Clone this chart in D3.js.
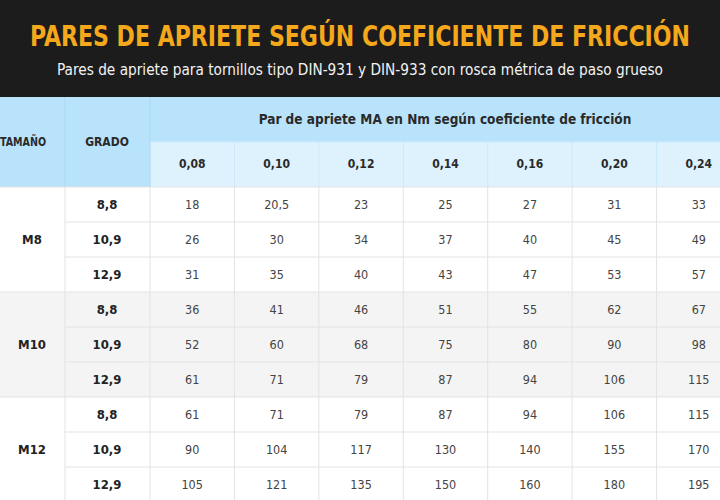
<!DOCTYPE html>
<html><head><meta charset="utf-8">
<script src="https://cdn.jsdelivr.net/npm/d3@7"></script>
<style>body{margin:0;background:#fff;overflow:hidden}</style>
</head><body>
<svg id="c" width="720" height="500"></svg>
<script>
var coefs = ["0,08","0,10","0,12","0,14","0,16","0,20","0,24"];
var sizes = ["M8","M10","M12"];
var grades = ["8,8","10,9","12,9"];
var m8 = [[18,"20,5",23,25,27,31,33],[26,30,34,37,40,45,49],[31,35,40,43,47,53,57]];
var m10 = [[36,41,46,51,55,62,67],[52,60,68,75,80,90,98],[61,71,79,87,94,106,115]];
var m12 = [[61,71,79,87,94,106,115],[90,104,117,130,140,155,170],[105,121,135,150,160,180,195]];
var values = [m8, m10, m12];

var svg = d3.select("#c");
var font = "'DejaVu Sans Condensed','DejaVu Sans',sans-serif";
var line = "#e3e3e3";

// banner
svg.append("rect").attr("width",720).attr("height",97).attr("fill","#1c1c1c");
svg.append("text").attr("x",360).attr("y",46).attr("text-anchor","middle")
	.attr("font-family",font).attr("font-weight","bold").attr("font-size",28)
	.attr("textLength",660).attr("lengthAdjust","spacingAndGlyphs")
	.attr("fill","#f6a81c").text("PARES DE APRIETE SEGÚN COEFICIENTE DE FRICCIÓN");
svg.append("text").attr("x",360).attr("y",75).attr("text-anchor","middle")
	.attr("font-family",font).attr("font-size",15.5)
	.attr("textLength",606).attr("lengthAdjust","spacingAndGlyphs")
	.attr("fill","#f2f2f2").text("Pares de apriete para tornillos tipo DIN-931 y DIN-933 con rosca métrica de paso grueso");

// scales
var x = d3.scaleBand().domain(coefs).range([150,741]);
var rowKeys = [];
sizes.forEach(function(s){grades.forEach(function(g){rowKeys.push(s+"|"+g)})});
var y = d3.scaleBand().domain(rowKeys).range([187,502]);

// header
svg.append("rect").attr("x",0).attr("y",97).attr("width",720).attr("height",90).attr("fill","#b9e3fb");
svg.append("rect").attr("x",150).attr("y",142).attr("width",570).attr("height",45).attr("fill","#def2fd");
svg.append("line").attr("x1",65).attr("x2",65).attr("y1",97).attr("y2",187).attr("stroke","#a8d6f2");
svg.append("line").attr("x1",150).attr("x2",150).attr("y1",97).attr("y2",187).attr("stroke","#a8d6f2");
svg.append("line").attr("x1",150).attr("x2",720).attr("y1",142).attr("y2",142).attr("stroke","#cfeafb");
coefs.slice(1).forEach(function(c){
	svg.append("line").attr("x1",x(c)).attr("x2",x(c)).attr("y1",142).attr("y2",187).attr("stroke","#cbe8fa");
});
function hText(tx,ty,t,sz,anchor){
	return svg.append("text").attr("x",tx).attr("y",ty).attr("text-anchor",anchor||"middle").attr("dominant-baseline","central")
		.attr("font-family",font).attr("font-weight","bold").attr("font-size",sz||12).attr("fill","#2a2a2a").text(t);
}
hText(0,142,"TAMAÑO",12,"start").attr("textLength",46).attr("lengthAdjust","spacingAndGlyphs");
hText(107,142,"GRADO");
hText(445,119,"Par de apriete MA en Nm según coeficiente de fricción",13.5);
coefs.forEach(function(c){hText(x(c)+x.bandwidth()/2,164,c)});

// body
sizes.forEach(function(s,si){
	var y0 = y(s+"|"+grades[0]);
	var gh = y.bandwidth()*3;
	svg.append("rect").attr("x",0).attr("y",y0).attr("width",720).attr("height",gh)
		.attr("fill", si==1 ? "#f4f4f4" : "#fff");
	svg.append("line").attr("x1",0).attr("x2",720).attr("y1",y0).attr("y2",y0).attr("stroke",line);
	svg.append("text").attr("x",32).attr("y",y0+gh/2).attr("text-anchor","middle").attr("dominant-baseline","central")
		.attr("font-family",font).attr("font-weight","bold").attr("font-size",13).attr("fill","#222").text(s);
	grades.forEach(function(g,gi){
		var yy = y(s+"|"+g);
		if(gi>0) svg.append("line").attr("x1",65).attr("x2",720).attr("y1",yy).attr("y2",yy).attr("stroke",line);
		svg.append("text").attr("x",107).attr("y",yy+y.bandwidth()/2).attr("text-anchor","middle").attr("dominant-baseline","central")
			.attr("font-family",font).attr("font-weight","bold").attr("font-size",13).attr("fill","#222").text(g);
		values[si][gi].forEach(function(v,ci){
			svg.append("text").attr("x",x(coefs[ci])+x.bandwidth()/2).attr("y",yy+y.bandwidth()/2)
				.attr("text-anchor","middle").attr("dominant-baseline","central")
				.attr("font-family",font).attr("font-size",12.5).attr("fill","#444").text(v);
		});
	});
});
svg.append("line").attr("x1",65).attr("x2",65).attr("y1",187).attr("y2",500).attr("stroke",line);
coefs.forEach(function(c){
	svg.append("line").attr("x1",x(c)).attr("x2",x(c)).attr("y1",187).attr("y2",500).attr("stroke",line);
});
</script>
</body></html>
